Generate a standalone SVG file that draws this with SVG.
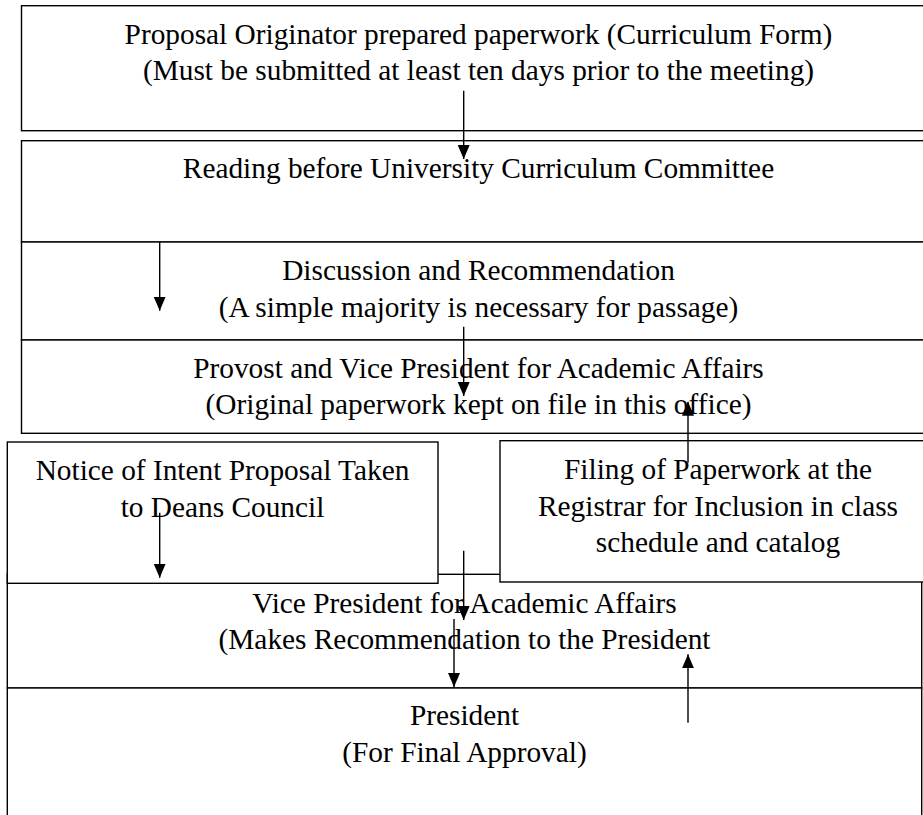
<svg xmlns="http://www.w3.org/2000/svg" width="923" height="815" viewBox="0 0 923 815">
<style>
.box{fill:#fff;stroke:#000;stroke-width:1.4}
.t{font-family:"Liberation Serif","Times New Roman",serif;font-size:29.33px;fill:#000;text-anchor:middle}
.c{stroke:#000;stroke-width:1.4;fill:none;marker-end:url(#ah)}
</style>
<defs>
<marker id="ah" viewBox="0 0 14 12" refX="14" refY="6" markerWidth="14" markerHeight="12" markerUnits="userSpaceOnUse" orient="auto">
<path d="M0,0 L14,6 L0,12 Z" fill="#000"/>
</marker>
</defs>
<rect width="923" height="815" fill="#fff"/>
<g id="n1">
<rect class="box" x="21.5" y="5.7" width="915" height="125"/>
<text class="t" x="478.5" y="43.5">Proposal Originator prepared paperwork (Curriculum Form)</text>
<text class="t" x="478.5" y="80">(Must be submitted at least ten days prior to the meeting)</text>
</g>
<g id="n2">
<rect class="box" x="21.5" y="140.7" width="915" height="101.3"/>
<text class="t" x="478.5" y="178">Reading before University Curriculum Committee</text>
</g>
<g id="n3">
<rect class="box" x="21.5" y="242" width="915" height="98"/>
<text class="t" x="478.5" y="280">Discussion and Recommendation</text>
<text class="t" x="478.5" y="316.5">(A simple majority is necessary for passage)</text>
</g>
<g id="n4">
<rect class="box" x="21.5" y="340" width="915" height="93.3"/>
<text class="t" x="478.5" y="378">Provost and Vice President for Academic Affairs</text>
<text class="t" x="478.5" y="414">(Original paperwork kept on file in this office)</text>
</g>
<g id="n7">
<rect class="box" x="7.3" y="574.3" width="914.4" height="113.7"/>
<text class="t" x="464.5" y="612.5">Vice President for Academic Affairs</text>
<text class="t" x="464.5" y="649">(Makes Recommendation to the President</text>
</g>
<g id="n8">
<rect class="box" x="7.3" y="688" width="914.4" height="150"/>
<text class="t" x="464.5" y="725">President</text>
<text class="t" x="464.5" y="761.5">(For Final Approval)</text>
</g>
<g id="n5">
<rect class="box" x="7.3" y="442" width="430.7" height="141.3"/>
<text class="t" x="222.5" y="480">Notice of Intent Proposal Taken</text>
<text class="t" x="222.5" y="516.5">to Deans Council</text>
</g>
<g id="n6">
<rect class="box" x="500" y="440.7" width="436" height="141.3"/>
<text class="t" x="718" y="479">Filing of Paperwork at the</text>
<text class="t" x="718" y="515.5">Registrar for Inclusion in class</text>
<text class="t" x="718" y="552">schedule and catalog</text>
</g>
<g id="connectors">
<path class="c" d="M463.7,90.7 V159"/>
<path class="c" d="M159.7,242 V310.7"/>
<path class="c" d="M463.7,326.7 V396"/>
<path class="c" d="M159.7,512.7 V577.7"/>
<path class="c" d="M688,462.7 V401.7"/>
<path class="c" d="M463.7,550.7 V620"/>
<path class="c" d="M454,619 V687"/>
<path class="c" d="M688,722.7 V654.3"/>
</g>
</svg>
